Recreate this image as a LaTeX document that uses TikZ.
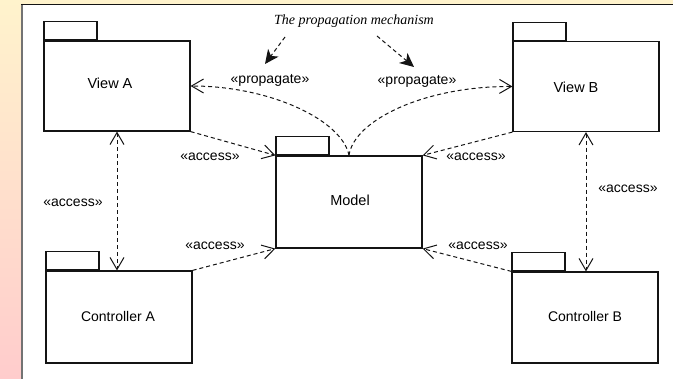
\documentclass[tikz,border=0pt]{standalone}
\usepackage{fontspec}
\setmainfont{Liberation Sans}
\newfontfamily\notefont{Liberation Serif}
\usetikzlibrary{arrows.meta}
\definecolor{bgtop}{RGB}{255,243,204}
\definecolor{bgbot}{RGB}{255,204,204}
\definecolor{ink}{RGB}{20,20,20}
\definecolor{frameside}{RGB}{115,115,115}
\begin{document}
\begin{tikzpicture}[x=1pt,y=-1pt,
  pkg/.style={draw=ink, line width=1.2pt, fill=white, minimum width=146pt, inner sep=0pt},
  pkgtab/.style={draw=ink, line width=1.2pt, fill=white, minimum width=53pt, minimum height=18pt, inner sep=0pt, anchor=south west},
  txt/.style={font=\fontsize{14}{16}\selectfont, inner sep=1pt},
  pkgname/.style={font=\fontsize{14.5}{16}\selectfont, inner sep=1pt},
  note/.style={font=\notefont\itshape\fontsize{14}{16}\selectfont, inner sep=1pt},
  dashline/.style={draw=ink, line width=1pt, dash pattern=on 4pt off 3pt},
  dep/.style={dashline, -{Straight Barb[length=12pt,width=14pt]}},
  twoway/.style={dashline, {Straight Barb[length=12pt,width=14pt]}-{Straight Barb[length=12pt,width=14pt]}},
  hint/.style={dashline, -{Stealth[length=14pt,width=13pt,inset=4pt]}}]

\useasboundingbox (0,0) rectangle (673,379);

% slide background and white panel
\shade[top color=bgtop, bottom color=bgbot] (0,0) rectangle (673,379);
\fill[white] (22,4) rectangle (673,379);
\draw[frameside, line width=2pt] (22,4) -- (22,379);
\draw[ink, line width=1.2pt] (21,4.5) -- (673,4.5);

% packages
\node[pkg, minimum height=90pt] (va) at (117,86) {};
\node[pkgtab] (vatab) at (va.north west) {};
\node[pkg, minimum height=90pt] (vb) at (586,86.5) {};
\node[pkgtab] (vbtab) at (vb.north west) {};
\node[pkg, minimum height=92pt] (model) at (349,202) {};
\node[pkgtab] (modeltab) at (model.north west) {};
\node[pkg, minimum height=92pt] (ca) at (119,317) {};
\node[pkgtab] (catab) at (ca.north west) {};
\node[pkg, minimum height=91pt] (cb) at (585,317.5) {};
\node[pkgtab] (cbtab) at (cb.north west) {};

% package names
\node[pkgname] (vaname) at (110,83) {View A};
\node[pkgname] (vbname) at (576,87) {View B};
\node[pkgname] (modelname) at (350,200) {Model};
\node[txt] (caname) at (118,316) {Controller A};
\node[txt] (cbname) at (585,316) {Controller B};

% access dependencies towards the model
\draw[dep] (va.south east) -- (model.north west);
\draw[dep] (ca.north east) -- (model.south west);
\draw[dep] (vb.south west) -- (model.north east);
\draw[dep] (cb.north west) -- (model.south east);

% view <-> controller
\draw[twoway] (va.south) -- (va.south |- ca.north);
\draw[twoway] (vb.south) -- (vb.south |- cb.north);

% propagation from the model to the views
\draw[dep] (model.north) .. controls (342,120) and (270,86) .. (va.east);
\draw[dep] (model.north) .. controls (354,120) and (425,86) .. (vb.west);

% labels
\node[txt] (accVA) at (210,157) {«access»};
\node[txt] (accCA) at (215,246) {«access»};
\node[txt] (accVB) at (476,157) {«access»};
\node[txt] (accCB) at (478,246) {«access»};
\node[txt] (accA) at (73,203) {«access»};
\node[txt] (accB) at (628,189) {«access»};
\node[txt] (propL) at (270,80) {«propagate»};
\node[txt] (propR) at (417,81) {«propagate»};

% the note and its pointers
\node[note] (mech) at (354,21) {The propagation mechanism};
\coordinate (mechL) at (285,37);
\coordinate (mechR) at (377,36);
\coordinate (tipL) at (265,64);
\coordinate (tipR) at (414,67);
\draw[hint] (mechL) -- (tipL);
\draw[hint] (mechR) -- (tipR);
\end{tikzpicture}
\end{document}
